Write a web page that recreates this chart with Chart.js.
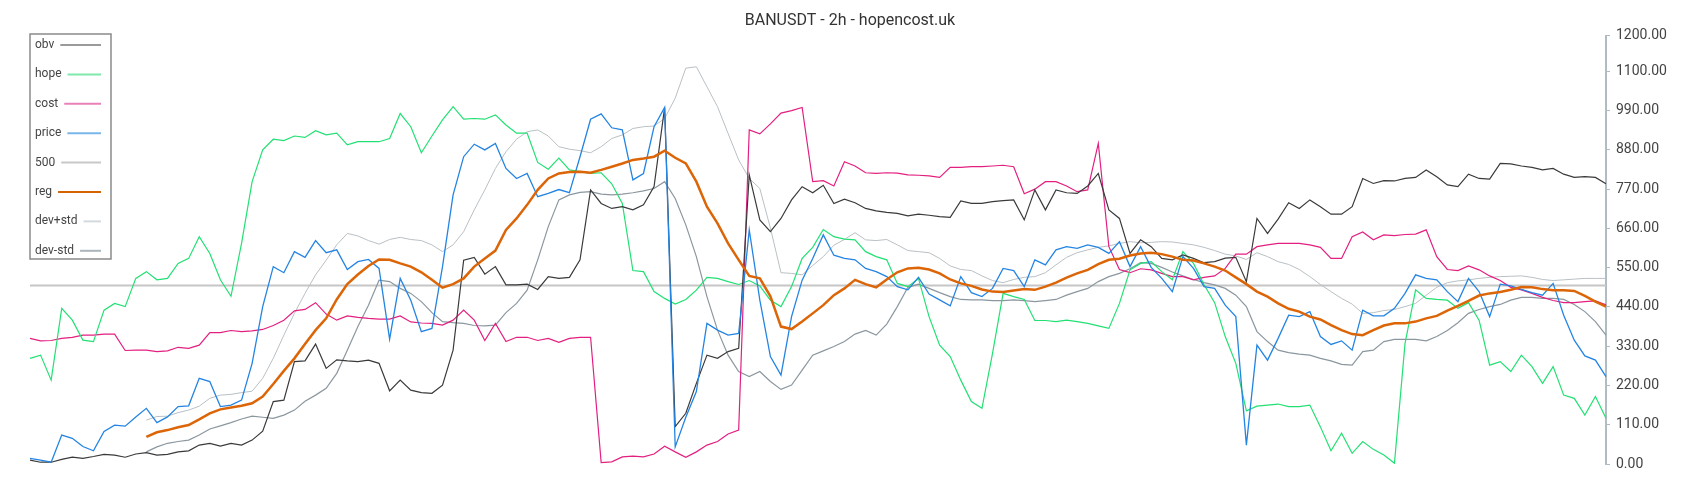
<!DOCTYPE html>
<html>
<head>
<meta charset="utf-8">
<title>BANUSDT - 2h - hopencost.uk</title>
<script src="https://cdn.jsdelivr.net/npm/chart.js@4.4.1/dist/chart.umd.min.js"></script>
<style>
  html, body { margin: 0; padding: 0; background: #fff; }
  #wrap { width: 1700px; height: 500px; }
</style>
</head>
<body>
<div id="wrap"><canvas id="hopeChart" width="1700" height="500"></canvas></div>
<script>
// Chart.js global defaults
Chart.defaults.font.family = "Roboto, 'Noto Sans', sans-serif";
Chart.defaults.color = '#444';

// bars (2h candles), one label per sample
const bars = Array.from({ length: 150 }, (_, i) => i);

// right axis ticks
const yTicks = [0, 110, 220, 330, 440, 550, 660, 770, 880, 990, 1100, 1200];

const obv = [
    11, 5, 5, 13, 19, 16, 21, 27, 25, 19, 28, 32, 25, 27, 34, 37, 53, 58,
    50, 58, 53, 67, 92, 175, 179, 287, 289, 336, 268, 292, 289, 287, 291, 282, 205, 235, 207,
    200, 198, 221, 319, 571, 579, 532, 553, 502, 502, 504, 489, 525, 520, 523, 572, 768, 730, 716,
    721, 712, 726, 777, 999, 105, 142, 226, 305, 296, 315, 324, 810, 684, 651, 688, 740, 777, 760,
    781, 730, 742, 732, 716, 709, 705, 702, 695, 700, 697, 693, 691, 737, 730, 730, 735, 738, 740,
    684, 768, 712, 768, 760, 758, 779, 814, 712, 688, 590, 628, 609, 576, 572, 586, 576, 564, 567,
    577, 579, 511, 688, 646, 686, 732, 716, 740, 721, 700, 700, 721, 800, 786, 794, 793, 800,
    803, 824, 805, 782, 777, 812, 800, 798, 842, 841, 835, 831, 824, 828, 812, 803, 805, 803, 785
];

const hope = [
    296, 305, 235, 436, 403, 347, 343, 431, 450, 441, 520, 539, 516, 520, 562, 576, 637, 590,
    516, 470, 618, 791, 880, 910, 906, 919, 915, 934, 922, 927, 894, 903, 903, 903, 912, 982, 945,
    872, 919, 964, 1001, 966, 968, 966, 978, 950, 927, 927, 845, 826, 857, 824, 819, 814, 816, 785,
    730, 542, 539, 483, 464, 448, 461, 487, 523, 520, 511, 503, 514, 499, 459, 441, 497, 576, 607,
    657, 637, 630, 628, 595, 581, 572, 506, 497, 520, 413, 333, 301, 235, 175, 156, 310, 478, 469,
    461, 402, 402, 399, 403, 399, 394, 387, 380, 450, 544, 562, 567, 539, 516, 595, 562, 502, 452,
    357, 282, 149, 162, 165, 168, 161, 161, 165, 104, 37, 86, 30, 63, 41, 25, 2, 338,
    488, 464, 461, 459, 436, 452, 403, 277, 287, 259, 305, 273, 226, 273, 193, 184, 137, 189, 128
];

const cost = [
    352, 345, 346, 352, 355, 361, 361, 364, 364, 318, 319, 319, 315, 317, 327, 324, 333, 368,
    368, 374, 371, 373, 377, 388, 403, 429, 433, 452, 420, 403, 415, 411, 408, 406, 406, 415, 398,
    395, 394, 389, 403, 431, 403, 346, 394, 343, 355, 355, 346, 352, 341, 352, 355, 355, 4, 6,
    20, 22, 20, 28, 50, 34, 19, 34, 53, 63, 84, 95, 936, 925, 953, 983, 990, 999, 791,
    794, 779, 847, 835, 816, 814, 816, 815, 810, 809, 807, 803, 831, 831, 833, 833, 835, 837, 833,
    757, 770, 791, 791, 779, 763, 768, 898, 609, 545, 536, 547, 544, 534, 525, 525, 516, 523, 527,
    548, 588, 588, 609, 614, 618, 618, 618, 614, 607, 576, 576, 637, 650, 628, 642, 640, 643,
    644, 656, 581, 545, 542, 555, 544, 527, 514, 495, 488, 478, 467, 458, 452, 452, 455, 457, 446
];

const price = [
    16, 11, 5, 81, 72, 49, 37, 91, 109, 106, 132, 156, 116, 132, 161, 163, 240, 231,
    161, 165, 179, 282, 441, 553, 536, 595, 579, 626, 592, 600, 545, 567, 573, 548, 350, 520, 459,
    371, 380, 553, 754, 861, 896, 880, 898, 828, 800, 814, 749, 758, 769, 760, 861, 966, 981, 942,
    936, 796, 814, 945, 999, 48, 131, 203, 394, 375, 361, 366, 656, 459, 301, 249, 413, 515, 576,
    642, 585, 576, 572, 548, 539, 525, 497, 488, 523, 476, 460, 443, 525, 480, 469, 492, 548, 542,
    497, 572, 558, 600, 609, 604, 614, 607, 590, 623, 553, 609, 551, 520, 483, 581, 548, 497, 492,
    445, 413, 53, 333, 291, 352, 417, 413, 427, 357, 335, 345, 319, 431, 415, 415, 436, 478,
    530, 520, 516, 483, 455, 520, 483, 413, 504, 499, 489, 480, 473, 506, 417, 347, 303, 291, 245
];

const level500 = [
    500, 500, 500, 500, 500, 500, 500, 500, 500, 500, 500, 500, 500, 500, 500, 500, 500, 500,
    500, 500, 500, 500, 500, 500, 500, 500, 500, 500, 500, 500, 500, 500, 500, 500, 500, 500, 500,
    500, 500, 500, 500, 500, 500, 500, 500, 500, 500, 500, 500, 500, 500, 500, 500, 500, 500, 500,
    500, 500, 500, 500, 500, 500, 500, 500, 500, 500, 500, 500, 500, 500, 500, 500, 500, 500, 500,
    500, 500, 500, 500, 500, 500, 500, 500, 500, 500, 500, 500, 500, 500, 500, 500, 500, 500, 500,
    500, 500, 500, 500, 500, 500, 500, 500, 500, 500, 500, 500, 500, 500, 500, 500, 500, 500, 500,
    500, 500, 500, 500, 500, 500, 500, 500, 500, 500, 500, 500, 500, 500, 500, 500, 500, 500,
    500, 500, 500, 500, 500, 500, 500, 500, 500, 500, 500, 500, 500, 500, 500, 500, 500, 500, 500
];

const reg = [
    null, null, null, null, null, null, null, null, null, null, null, 76, 89, 95, 103, 109, 125, 142,
    153, 158, 163, 170, 189, 224, 261, 296, 336, 375, 408, 461, 504, 531, 555, 573, 572, 562, 553,
    537, 516, 494, 504, 520, 553, 576, 598, 656, 688, 726, 768, 800, 814, 818, 819, 816, 824, 833,
    842, 852, 856, 861, 878, 858, 842, 791, 721, 674, 618, 572, 527, 520, 470, 385, 378, 399, 422,
    445, 473, 492, 516, 504, 495, 517, 537, 548, 550, 545, 534, 517, 506, 499, 489, 483, 482, 486,
    490, 488, 497, 508, 522, 534, 544, 560, 572, 575, 584, 590, 592, 588, 581, 572, 570, 562, 553,
    542, 523, 504, 483, 469, 450, 435, 427, 413, 405, 389, 375, 364, 361, 375, 388, 394, 394,
    399, 408, 415, 430, 443, 457, 472, 478, 482, 488, 496, 495, 490, 487, 487, 485, 471, 455, 441
];

const devPlus = [
    null, null, null, null, null, null, null, null, null, null, null, 123, 133, 134, 144, 151, 162, 184,
    193, 195, 200, 204, 240, 296, 361, 422, 478, 530, 571, 614, 646, 639, 626, 616, 629, 635, 629,
    626, 614, 595, 614, 651, 712, 768, 828, 875, 910, 931, 936, 919, 889, 882, 878, 872, 889, 912,
    922, 940, 945, 947, 968, 1025, 1109, 1113, 1057, 1001, 926, 852, 800, 772, 661, 536, 534, 530, 556,
    581, 613, 629, 648, 628, 626, 629, 614, 598, 595, 592, 576, 555, 545, 542, 527, 514, 508, 517,
    523, 525, 536, 558, 579, 592, 600, 607, 611, 618, 623, 620, 621, 623, 622, 618, 614, 607, 598,
    588, 583, 573, 592, 581, 567, 559, 545, 525, 503, 483, 464, 448, 422, 424, 430, 433, 441,
    450, 473, 495, 508, 513, 516, 520, 523, 525, 526, 527, 523, 517, 514, 516, 518, 520, 520, 520
];

const devMinus = [
    null, null, null, null, null, null, null, null, null, null, null, 34, 48, 58, 63, 67, 81, 98,
    107, 116, 126, 134, 131, 128, 137, 151, 176, 193, 212, 254, 319, 385, 445, 515, 511, 492, 478,
    455, 424, 399, 396, 394, 388, 387, 389, 424, 450, 487, 572, 665, 740, 754, 761, 763, 756, 754,
    756, 760, 765, 772, 791, 744, 670, 581, 469, 375, 305, 259, 245, 259, 231, 209, 221, 263, 305,
    317, 329, 343, 364, 374, 361, 392, 441, 495, 504, 492, 480, 469, 461, 460, 460, 458, 458, 460,
    458, 455, 458, 461, 473, 483, 492, 511, 525, 534, 547, 564, 562, 551, 538, 527, 517, 508, 502,
    492, 473, 441, 371, 343, 319, 312, 308, 305, 296, 289, 279, 277, 315, 319, 343, 349, 349,
    349, 345, 357, 374, 396, 422, 433, 441, 447, 459, 467, 467, 464, 464, 461, 447, 427, 399, 361
];

// boxed legend in the top-left corner: name first, line sample after it
const legendBoxPlugin = {
    id: 'legendBox',
    afterDraw(chart) {
        const ctx = chart.ctx;
        ctx.save();
        ctx.fillStyle = '#fff';
        ctx.fillRect(30, 34, 81, 225);
        ctx.strokeStyle = '#8a8a8a';
        ctx.lineWidth = 1.5;
        ctx.strokeRect(30, 34, 81, 225);
        ctx.font = '12px Roboto';
        ctx.textBaseline = 'middle';
        chart.data.datasets.forEach((ds, k) => {
            const y = 45 + k * 29.4;
            ctx.fillStyle = '#444';
            ctx.fillText(ds.label, 35, y);
            const x0 = 35 + ctx.measureText(ds.label).width + 6;
            ctx.strokeStyle = ds.legendColor;
            ctx.lineWidth = 2;
            ctx.beginPath();
            ctx.moveTo(x0, y);
            ctx.lineTo(101, y);
            ctx.stroke();
        });
        ctx.restore();
    }
};

function line(label, data, color, legendColor, width, order) {
    return {
        label: label,
        data: data,
        borderColor: color,
        legendColor: legendColor,
        borderWidth: width,
        pointRadius: 0,
        tension: 0,
        fill: false,
        order: order
    };
}

function initChart() {
    const ctx = document.getElementById('hopeChart').getContext('2d');
    new Chart(ctx, {
        type: 'line',
        data: {
            labels: bars,
            datasets: [
                line('obv', obv, '#3a3a3a', '#9a9a9a', 1.2, 2),
                line('hope', hope, '#22e074', '#7fe9ab', 1.2, 3),
                line('cost', cost, '#e31f80', '#ea80b8', 1.2, 4),
                line('price', price, '#2484e2', '#7ab6ea', 1.3, 1),
                line('500', level500, '#c6c6c6', '#c8c8c8', 2, 7),
                line('reg', reg, '#dc6507', '#d46300', 2.5, 0),
                line('dev+std', devPlus, '#b9c0c5', '#d3d9dd', 1, 5),
                line('dev-std', devMinus, '#8b979f', '#aab5bc', 1.2, 6)
            ]
        },
        options: {
            responsive: false,
            animation: false,
            layout: {
                padding: { left: 30, right: 30, top: 0, bottom: 36 }
            },
            scales: {
                x: {
                    display: false
                },
                y: {
                    position: 'right',
                    min: 0,
                    max: 1200,
                    afterBuildTicks: (scale) => {
                        scale.ticks = yTicks.map(v => ({ value: v }));
                    },
                    afterFit: (scale) => {
                        scale.width = 64;
                    },
                    border: { display: true, color: '#b0bcc4', width: 2 },
                    grid: {
                        drawOnChartArea: false,
                        drawTicks: true,
                        tickLength: 4,
                        color: '#b0bcc4',
                        lineWidth: 1
                    },
                    ticks: {
                        padding: 6,
                        color: '#444',
                        font: { size: 14 },
                        callback: (v) => Number(v).toFixed(2)
                    }
                }
            },
            plugins: {
                legend: { display: false },
                tooltip: { enabled: false },
                title: {
                    display: true,
                    text: 'BANUSDT - 2h - hopencost.uk',
                    color: '#333',
                    font: { size: 16, weight: 'normal' },
                    padding: { top: 11, bottom: 5.5 }
                }
            }
        },
        plugins: [legendBoxPlugin]
    });
}

document.addEventListener('DOMContentLoaded', initChart);
</script>
</body>
</html>
